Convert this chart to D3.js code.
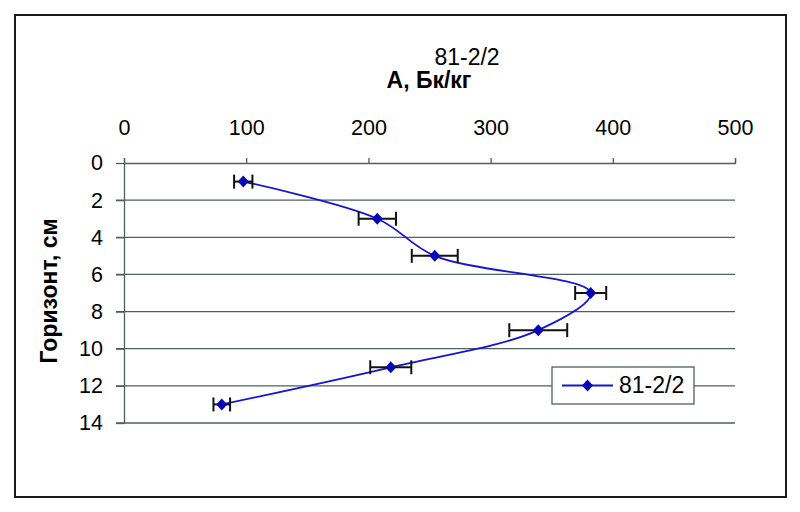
<!DOCTYPE html>
<html>
<head>
<meta charset="utf-8">
<script src="https://cdn.jsdelivr.net/npm/d3@7"></script>
<style>
  html, body { margin: 0; padding: 0; background: #fff; }
  svg { display: block; font-family: "Liberation Sans", Arial, sans-serif; }
</style>
</head>
<body>
<svg id="chart" width="800" height="512"></svg>
<script>
// ---- data ----
const depths = [1, 3, 5, 7, 9, 11, 13];
const activity = [97.6, 207.3, 254.3, 381.9, 339, 218.3, 80];
const errors = [7.5, 15.3, 18.8, 12.7, 23.7, 16.8, 6.8];
const xTicks = [0, 100, 200, 300, 400, 500];
const yTicks = [0, 2, 4, 6, 8, 10, 12, 14];
const seriesName = "81-2/2";
const chartTitle = "81-2/2";
const xTitle = "А, Бк/кг";
const yTitle = "Горизонт, см";

const svg = d3.select("#chart");
const axisColor = "#4f5f5f";
const lineColor = "#1414d2";
const markerColor = "#0606b4";

// outer frame
svg.append("rect").attr("x", 15).attr("y", 15).attr("width", 771).attr("height", 482)
  .attr("fill", "#fff").attr("stroke", "#1a1a1a").attr("stroke-width", 2);

const x = d3.scaleLinear().domain([0, 500]).range([124, 735]);
const y = d3.scaleLinear().domain([0, 14]).range([163, 423]);

// gridlines
svg.append("g").selectAll("line").data(yTicks.filter(d => d !== 0)).join("line")
  .attr("x1", x(0) - 8).attr("x2", x(500))
  .attr("y1", d => y(d)).attr("y2", d => y(d))
  .attr("stroke", axisColor).attr("stroke-width", 1.3);

// x axis (top)
const gx = svg.append("g").attr("transform", `translate(0,${y(0)})`)
  .call(d3.axisTop(x).tickValues(xTicks).tickSize(5).tickPadding(23).tickFormat(d3.format("d")));
gx.select(".domain").attr("stroke", axisColor).attr("stroke-width", 1.3);
gx.selectAll(".tick line").attr("stroke", axisColor).attr("stroke-width", 1.3);
gx.selectAll("text").attr("font-size", 21.5).attr("fill", "#000")
  .attr("font-family", "'Liberation Sans', Arial, sans-serif");

// y axis (left)
const gy = svg.append("g").attr("transform", `translate(${x(0)},0)`)
  .call(d3.axisLeft(y).tickValues(yTicks).tickSize(8).tickSizeOuter(0).tickPadding(13).tickFormat(d3.format("d")));
gy.select(".domain").attr("stroke", axisColor).attr("stroke-width", 1.3);
gy.selectAll(".tick line").attr("stroke", axisColor).attr("stroke-width", 1.3);
gy.selectAll("text").attr("font-size", 21.5).attr("fill", "#000")
  .attr("font-family", "'Liberation Sans', Arial, sans-serif");

// titles
svg.append("text").attr("x", 467).attr("y", 65).attr("text-anchor", "middle")
  .attr("font-size", 23).attr("fill", "#000").text(chartTitle);
svg.append("text").attr("x", 429).attr("y", 88).attr("text-anchor", "middle")
  .attr("font-size", 23).attr("font-weight", "bold").attr("fill", "#000").text(xTitle);
svg.append("text").attr("transform", "translate(57,291) rotate(-90)").attr("text-anchor", "middle")
  .attr("font-size", 23).attr("font-weight", "bold").attr("fill", "#000").text(yTitle);

// data
const pts = depths.map((d, i) => ({ depth: d, a: activity[i], e: errors[i] }));

// smoothed line
const line = d3.line().x(d => x(d.a)).y(d => y(d.depth)).curve(d3.curveCatmullRom.alpha(0.5));
svg.append("path").datum(pts).attr("d", line)
  .attr("fill", "none").attr("stroke", lineColor).attr("stroke-width", 1.8);

// error bars
const eb = svg.append("g").attr("stroke", "#111").attr("stroke-width", 2);
pts.forEach(p => {
  eb.append("line").attr("x1", x(p.a - p.e)).attr("x2", x(p.a + p.e)).attr("y1", y(p.depth)).attr("y2", y(p.depth));
  [p.a - p.e, p.a + p.e].forEach(v => {
    eb.append("line").attr("x1", x(v)).attr("x2", x(v)).attr("y1", y(p.depth) - 7).attr("y2", y(p.depth) + 7);
  });
});

// markers
const diamond = (cx, cy) => `M${cx},${cy - 6}L${cx + 5.5},${cy}L${cx},${cy + 6}L${cx - 5.5},${cy}Z`;
svg.append("g").selectAll("path").data(pts).join("path")
  .attr("d", d => diamond(x(d.a), y(d.depth)))
  .attr("fill", markerColor);

// legend
const lg = svg.append("g");
lg.append("rect").attr("x", 552).attr("y", 367).attr("width", 142).attr("height", 37)
  .attr("fill", "#fff").attr("stroke", axisColor).attr("stroke-width", 1.3);
lg.append("line").attr("x1", 562).attr("x2", 613).attr("y1", 385.5).attr("y2", 385.5)
  .attr("stroke", lineColor).attr("stroke-width", 2);
lg.append("path").attr("d", diamond(587.5, 385.5)).attr("fill", markerColor);
lg.append("text").attr("x", 619).attr("y", 393).attr("font-size", 23).attr("fill", "#000").text(seriesName);
</script>
</body>
</html>
